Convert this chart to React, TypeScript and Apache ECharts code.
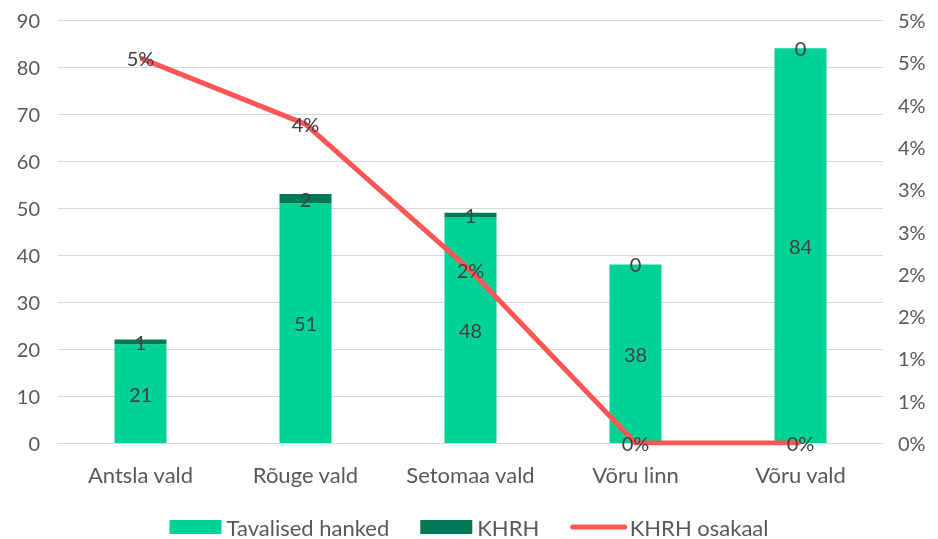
import React, { useEffect, useRef } from "react";
import * as echarts from "echarts";

const categories = ["Antsla vald", "Rõuge vald", "Setomaa vald", "Võru linn", "Võru vald"];
const tavalised = [21, 51, 48, 38, 84];
const khrh = [1, 2, 1, 0, 0];
const osakaal = [0.0455, 0.0377, 0.0204, 0, 0];
const leftTicks = { min: 0, max: 90, interval: 10 };
const rightTicks = { min: 0, max: 0.05, interval: 0.005 };

const FONT = "Lato";
const pct = (v: number) => Math.round(v * 100 + 1e-9) + "%";

export default function App() {
  const ref = useRef<HTMLDivElement>(null);
  useEffect(() => {
    if (!ref.current) return;
    const chart = echarts.init(ref.current, undefined, { renderer: "svg" });
    const labelStyle = { color: "#404040", fontSize: 20, fontFamily: FONT };
    chart.setOption({
      animation: false,
      textStyle: { fontFamily: FONT },
      grid: { left: 58, right: 55, top: 20, bottom: 96 },
      legend: {
        top: 511,
        left: "center",
        itemWidth: 52,
        itemHeight: 14,
        itemGap: 31,
        textStyle: { color: "#595959", fontSize: 22, fontFamily: FONT },
        data: [
          { name: "Tavalised hanked", icon: "rect" },
          { name: "KHRH", icon: "rect" },
          {
            name: "KHRH osakaal",
            itemStyle: { opacity: 0 },
            lineStyle: { width: 5, cap: "round", color: "#FF5555" },
          },
        ],
      },
      xAxis: {
        type: "category",
        data: categories,
        axisTick: { show: false },
        axisLine: { lineStyle: { color: "#d9d9d9", width: 1 } },
        axisLabel: {
          color: "#595959",
          fontSize: 22,
          fontFamily: FONT,
          margin: 20,
          interval: 0,
        },
      },
      yAxis: [
        {
          type: "value",
          ...leftTicks,
          axisLine: { show: false },
          axisTick: { show: false },
          splitLine: { lineStyle: { color: "#d9d9d9", width: 1 } },
          axisLabel: { color: "#595959", fontSize: 20, fontFamily: FONT, margin: 18 },
        },
        {
          type: "value",
          ...rightTicks,
          axisLine: { show: false },
          axisTick: { show: false },
          splitLine: { show: false },
          axisLabel: {
            color: "#595959",
            fontSize: 20,
            fontFamily: FONT,
            margin: 15,
            formatter: (v: number) => pct(v),
          },
        },
      ],
      series: [
        {
          name: "Tavalised hanked",
          type: "bar",
          stack: "a",
          barWidth: 52,
          data: tavalised,
          itemStyle: { color: "#00D194" },
          label: { show: true, position: "inside", ...labelStyle },
        },
        {
          name: "KHRH",
          type: "bar",
          stack: "a",
          barWidth: 52,
          data: khrh,
          itemStyle: { color: "#007A55" },
          label: { show: true, position: "inside", ...labelStyle },
        },
        {
          name: "KHRH osakaal",
          type: "line",
          yAxisIndex: 1,
          data: osakaal,
          showSymbol: true,
          symbol: "circle",
          symbolSize: 0,
          itemStyle: { color: "#FF5555" },
          lineStyle: { color: "#FF5555", width: 5 },
          label: {
            show: true,
            position: "inside",
            ...labelStyle,
            formatter: (p: any) => pct(p.value),
          },
          z: 5,
        },
      ],
    });
    return () => chart.dispose();
  }, []);
  return (
    <div
      ref={ref}
      style={{ position: "fixed", left: 0, top: 0, width: 938, height: 539 }}
    />
  );
}
